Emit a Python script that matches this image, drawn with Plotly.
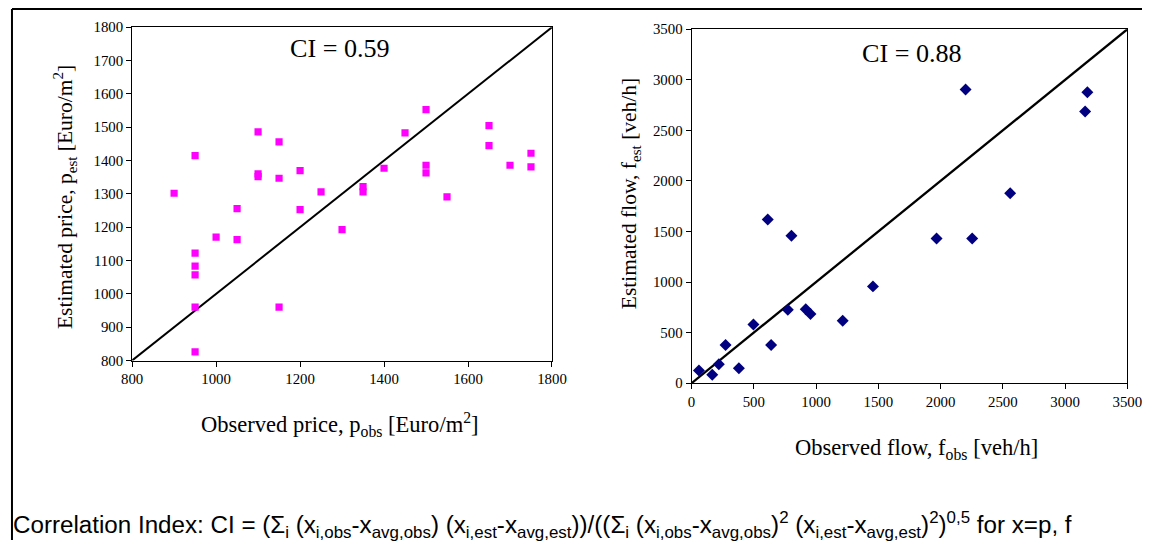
import plotly.graph_objects as go

# Left panel: observed vs estimated price [Euro/m2]
price_obs = [900, 950, 950, 950, 950, 950, 950, 1000, 1050, 1050, 1100, 1100, 1100,
             1150, 1150, 1150, 1200, 1200, 1250, 1300, 1350, 1350, 1400, 1450,
             1500, 1500, 1500, 1550, 1650, 1650, 1700, 1750, 1750]
price_est = [1302, 1415, 1122, 1083, 1057, 960, 826, 1170, 1256, 1163, 1486, 1360, 1352,
             1456, 1347, 960, 1370, 1253, 1306, 1193, 1322, 1306, 1377, 1483,
             1553, 1386, 1363, 1291, 1505, 1445, 1386, 1422, 1381]

# Right panel: observed vs estimated flow [veh/h]
flow_obs = [59, 166, 219, 273, 380, 497, 612, 639, 773, 802, 917, 955, 1214, 1457,
            1968, 2201, 2254, 2559, 3161, 3179]
flow_est = [125, 82, 187, 378, 148, 579, 1618, 378, 727, 1457, 730, 684, 618, 957,
            1431, 2904, 1431, 1878, 2687, 2878]

price_range = [800, 1800]
flow_range = [0, 3500]
price_ticks = [800, 900, 1000, 1100, 1200, 1300, 1400, 1500, 1600, 1700, 1800]
price_xticks = [800, 1000, 1200, 1400, 1600, 1800]
flow_ticks = [0, 500, 1000, 1500, 2000, 2500, 3000, 3500]

ci_price = "CI = 0.59"
ci_flow = "CI = 0.88"

W, H = 1157, 548
# the captured picture shows the page slightly shrunk and offset; compensate
SX, OX = 0.979, 10.7
SY, OY = 0.973, 6.7
SF = (SX + SY) / 2
serif = "Liberation Serif, Times New Roman, serif"


def px_x(p):
    return min(1.0, max(0.0, (p - OX) / SX / W))


def px_y(p):
    return min(1.0, max(0.0, 1 - (p - OY) / SY / H))


def fs(s):
    return s / SF


fig = go.Figure()

fig.add_trace(go.Scatter(x=price_range, y=price_range, mode="lines",
                         line=dict(color="black", width=2), xaxis="x", yaxis="y",
                         showlegend=False, hoverinfo="skip"))
fig.add_trace(go.Scatter(x=price_obs, y=price_est, mode="markers",
                         marker=dict(symbol="square", size=fs(7), color="#FF00FF"),
                         xaxis="x", yaxis="y", showlegend=False))
fig.add_trace(go.Scatter(x=flow_range, y=flow_range, mode="lines",
                         line=dict(color="black", width=2.3), xaxis="x2", yaxis="y2",
                         showlegend=False, hoverinfo="skip"))
fig.add_trace(go.Scatter(x=flow_obs, y=flow_est, mode="markers",
                         marker=dict(symbol="diamond", size=fs(9), color="#000080"),
                         xaxis="x2", yaxis="y2", showlegend=False))

axis_common = dict(showline=True, linecolor="black", linewidth=1, mirror=True,
                   ticks="outside", ticklen=5, tickcolor="black", showgrid=False,
                   zeroline=False, tickfont=dict(family=serif, size=fs(14.5), color="black"))

fig.update_layout(
    width=W, height=H,
    margin=dict(l=0, r=0, t=0, b=0),
    paper_bgcolor="white", plot_bgcolor="white",
    xaxis=dict(domain=[px_x(132), px_x(552.5)], range=price_range, tickvals=price_xticks,
               anchor="y", **axis_common),
    yaxis=dict(domain=[px_y(360), px_y(26)], range=price_range, tickvals=price_ticks,
               anchor="x", **axis_common),
    xaxis2=dict(domain=[px_x(692.3), px_x(1128.7)], range=flow_range, tickvals=flow_ticks,
                anchor="y2", **axis_common),
    yaxis2=dict(domain=[px_y(382.7), px_y(28)], range=flow_range, tickvals=flow_ticks,
                anchor="x2", **axis_common),
)

annotations = [
    dict(text=ci_price, x=px_x(340), y=px_y(47), font=dict(family=serif, size=fs(25.5))),
    dict(text=ci_flow, x=px_x(913), y=px_y(52), font=dict(family=serif, size=fs(25.5))),
    dict(text="Observed price, p<sub>obs</sub> [Euro/m<sup>2</sup>]", x=px_x(340), y=px_y(424),
         font=dict(family=serif, size=fs(22))),
    dict(text="Estimated price, p<sub>est</sub> [Euro/m<sup>2</sup>]", x=px_x(65), y=px_y(196),
         textangle=-90, font=dict(family=serif, size=fs(21))),
    dict(text="Observed flow, f<sub>obs</sub> [veh/h]", x=px_x(918), y=px_y(449),
         font=dict(family=serif, size=fs(22))),
    dict(text="Estimated flow, f<sub>est</sub> [veh/h]", x=px_x(632), y=px_y(193),
         textangle=-90, font=dict(family=serif, size=fs(21))),
    dict(text="Correlation Index: CI = (\u03a3<sub>i</sub> (x<sub>i,obs</sub>-x<sub>avg,obs</sub>) "
              "(x<sub>i,est</sub>-x<sub>avg,est</sub>))/((\u03a3<sub>i</sub> (x<sub>i,obs</sub>-x<sub>avg,obs</sub>)<sup>2</sup> "
              "(x<sub>i,est</sub>-x<sub>avg,est</sub>)<sup>2</sup>)<sup>0,5</sup> for x=p, f",
         x=px_x(10), y=px_y(525), xanchor="left",
         font=dict(family="Liberation Sans, Arial, sans-serif", size=fs(23.6))),
]
for a in annotations:
    a.setdefault("xanchor", "center")
    fig.add_annotation(xref="paper", yref="paper", showarrow=False, yanchor="middle", **a)
for ann in fig.layout.annotations:
    ann.font.color = "black"

# Outer frame (top and left edges)
fx0 = max(px_x(8), 1.0 / W)
fy0 = min(px_y(5), 1 - 1.0 / H)
fig.add_shape(type="line", xref="paper", yref="paper", x0=fx0, x1=1, y0=fy0, y1=fy0,
              line=dict(color="black", width=2))
fig.add_shape(type="line", xref="paper", yref="paper", x0=fx0, x1=fx0, y0=0, y1=fy0,
              line=dict(color="black", width=2))

fig.write_html(
    "out.html",
    config={"displayModeBar": False},
    post_script="document.body.style.margin='0';document.body.style.overflow='hidden';",
)
